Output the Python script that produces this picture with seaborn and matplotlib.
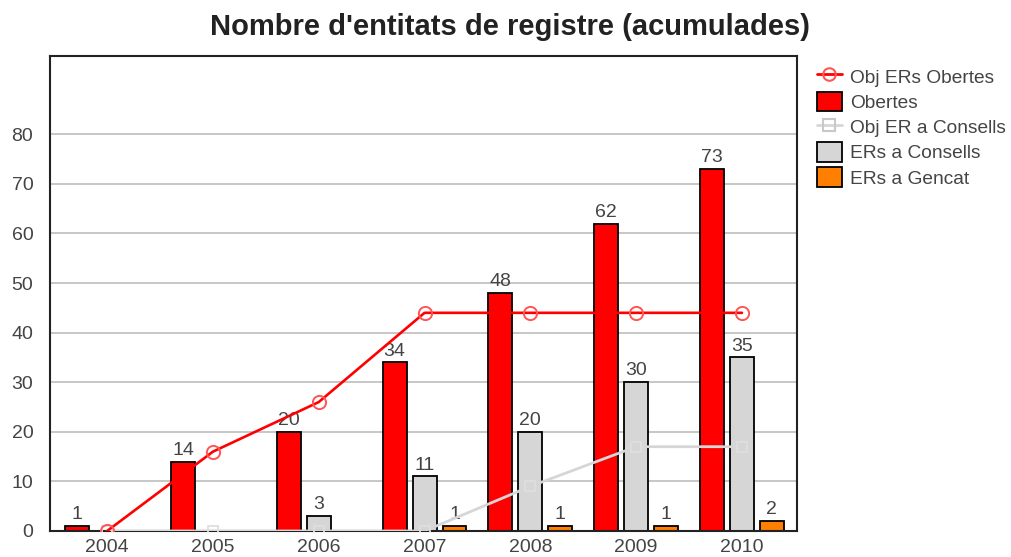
import seaborn as sns
import matplotlib.pyplot as plt
import pandas as pd
import numpy as np
from matplotlib.lines import Line2D
from matplotlib.patches import Patch

years = ['2004', '2005', '2006', '2007', '2008', '2009', '2010']
obertes = [1, 14, 20, 34, 48, 62, 73]
consells = [0, 0, 3, 11, 20, 30, 35]
gencat = [0, 0, 0, 1, 1, 1, 2]
obj_obertes = [0, 16, 26, 44, 44, 44, 44]
obj_consells = [0, 0, 0, 0, 9, 17, 17]

series_names = ['Obertes', 'ERs a Consells', 'ERs a Gencat']
colors = {'Obertes': '#ff0000', 'ERs a Consells': '#d6d6d6', 'ERs a Gencat': '#ff7f00'}

df = pd.DataFrame({
    'year': years * 3,
    'serie': [s for s in series_names for _ in years],
    'valor': obertes + consells + gencat,
})

sns.set_style("white")
plt.rcParams['font.family'] = ['Liberation Sans', 'DejaVu Sans']
text_col = '#444444'

fig = plt.figure(figsize=(10.12, 5.57), dpi=100)
ax = fig.add_axes([0.0494, 0.0467, 0.7381, 0.8528])

ax.yaxis.grid(True, color='#bdbdbd', linewidth=1.2)
ax.set_axisbelow(True)

sns.barplot(data=df, x='year', y='valor', hue='serie', hue_order=series_names,
            palette=colors, saturation=1, width=0.85, gap=0.2, edgecolor='black',
            linewidth=1.3, legend=False, ax=ax, zorder=2)

for cont in ax.containers:
    labels = [f'{int(v)}' if v > 0 else '' for v in cont.datavalues]
    ax.bar_label(cont, labels=labels, padding=2, fontsize=14, color=text_col)

pos = np.arange(len(years))
sns.lineplot(x=pos, y=obj_consells, color='#d6d6d6', linewidth=2, marker='s',
             markersize=7, markerfacecolor='none', markeredgecolor='#dedede',
             markeredgewidth=1.3, ax=ax, zorder=3)
sns.lineplot(x=pos, y=obj_obertes, color='#ff0000', linewidth=1.9, marker='o',
             markersize=9.5, markerfacecolor='none', markeredgecolor='#ff5555',
             markeredgewidth=1.4, ax=ax, zorder=4)

ax.set_xlim(-0.54, 6.52)
ax.set_ylim(0, 95.8)
ax.set_yticks(np.arange(0, 81, 10))
ax.set_xticks(pos)
ax.set_xticklabels(years)
ax.tick_params(axis='both', labelsize=14, labelcolor=text_col)
ax.tick_params(axis='y', length=3, width=1, color='#333333', direction='out', pad=9)
ax.tick_params(axis='x', length=0, pad=6)
ax.set_xlabel('')
ax.set_ylabel('')
for sp in ax.spines.values():
    sp.set_color('#222222')
    sp.set_linewidth(1.5)

fig.text(0.504, 1 - 27 / 557, "Nombre d'entitats de registre (acumulades)",
         ha='center', va='center', fontsize=21, fontweight='bold', color='#222222')

handles = [
    Line2D([], [], color='#ff0000', linewidth=2, marker='o', markersize=9,
           markerfacecolor='none', markeredgecolor='#ff5555', markeredgewidth=1.5),
    Patch(facecolor=colors['Obertes'], edgecolor='black', linewidth=1.3),
    Line2D([], [], color='#d6d6d6', linewidth=2, marker='s', markersize=8,
           markerfacecolor='none', markeredgecolor='#c8c8c8', markeredgewidth=1.5),
    Patch(facecolor=colors['ERs a Consells'], edgecolor='black', linewidth=1.3),
    Patch(facecolor=colors['ERs a Gencat'], edgecolor='black', linewidth=1.3),
]
labels = ['Obj ERs Obertes', 'Obertes', 'Obj ER a Consells', 'ERs a Consells', 'ERs a Gencat']
leg = fig.legend(handles, labels, loc='upper left', bbox_to_anchor=(0.807, 0.881),
                 frameon=False, fontsize=13.8, handlelength=1.3, handleheight=1.2,
                 handletextpad=0.45, labelspacing=0.26, borderpad=0, borderaxespad=0)
for t in leg.get_texts():
    t.set_color(text_col)

plt.savefig('out.png', dpi=100)
